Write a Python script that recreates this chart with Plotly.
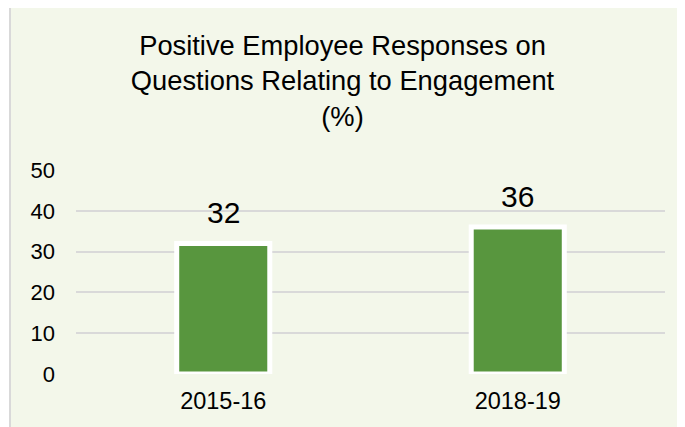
import plotly.graph_objects as go

categories = ["2015-16", "2018-19"]
values = [32, 36]
y_ticks = [0, 10, 20, 30, 40, 50]

W, H = 685, 427
# the page body adds an 8 px offset; compensate so the screen layout matches
ox, oy = 8, 8
ml, mr = 76 - ox, 20 + ox
mt, mb = 170 - oy, 53 + oy
pw, ph = W - ml - mr, H - mt - mb

font = "Liberation Sans, Arial, sans-serif"
bg = "#F3F7EA"

fig = go.Figure()
fig.add_trace(go.Bar(
    x=categories, y=values, width=0.316,
    marker=dict(color="#58963E", line=dict(color="white", width=5)),
    hoverinfo="skip",
))

for c, v in zip(categories, values):
    fig.add_annotation(x=c, y=v, text=str(v), showarrow=False, yanchor="bottom",
                       yshift=12, font=dict(family=font, size=30, color="#000000"))

# chart area background with border (left/top visible)
fig.add_shape(type="rect", xref="paper", yref="paper",
              x0=(10 - ox - ml) / pw, x1=1.3, y0=-0.6, y1=(H - mb - (5 - oy)) / ph,
              fillcolor=bg, line=dict(color="#D9D9D9", width=2), layer="below")

fig.update_layout(
    width=W, height=H,
    margin=dict(l=ml, r=mr, t=mt, b=mb, pad=0),
    paper_bgcolor="white", plot_bgcolor="rgba(0,0,0,0)",
    showlegend=False,
    title=dict(text="Positive Employee Responses on<br>Questions Relating to Engagement<br>(%)",
               x=(342.5 - ox) / W, xanchor="center", y=1 - 47 / H, yanchor="top", yref="container",
               font=dict(family=font, size=27.3, color="#000000")),
    font=dict(family=font, color="#000000"),
)
fig.update_xaxes(range=[-0.5, 1.5], showgrid=False, showline=False, zeroline=False,
                 ticks="", tickfont=dict(size=23.5, family=font, color="#000000"),
                 ticklabelstandoff=10)
fig.update_yaxes(range=[0, 50], tickvals=y_ticks, showgrid=True, gridcolor="#D9D9D9",
                 gridwidth=2, zeroline=False, showline=False, ticks="",
                 tickfont=dict(size=22, family=font, color="#000000"),
                 ticklabelstandoff=20)

fig.write_html("out.html")
